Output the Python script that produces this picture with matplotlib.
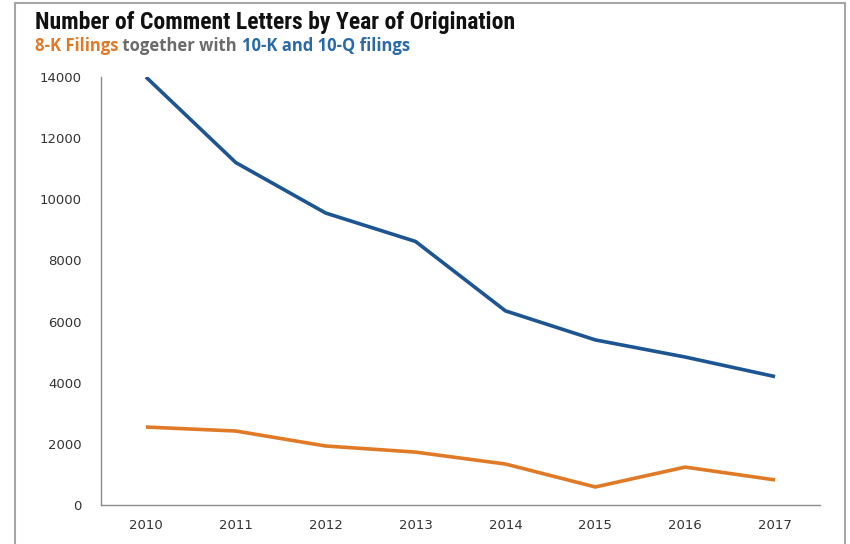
import matplotlib
matplotlib.use('Agg')
import matplotlib.pyplot as plt
from matplotlib.patches import Rectangle

years = [2010, 2011, 2012, 2013, 2014, 2015, 2016, 2017]
filings_10kq = [14000, 11200, 9550, 8620, 6350, 5400, 4840, 4200]
filings_8k = [2550, 2420, 1930, 1730, 1340, 590, 1240, 820]

blue = '#1c5592'
orange = '#e07a27'

fig = plt.figure(figsize=(8.5, 5.44), dpi=100)
ax = fig.add_axes([101/850, 39/544, 719/850, 428/544])

xs = range(len(years))
ax.plot(xs, filings_10kq, color=blue, lw=2.6, solid_capstyle='butt')
ax.plot(xs, filings_8k, color=orange, lw=2.6, solid_capstyle='butt')

ax.set_xlim(-0.5, len(years) - 0.5)
ax.set_ylim(0, 14000)
ax.set_yticks(range(0, 14001, 2000))
ax.set_xticks(list(xs))
ax.set_xticklabels([str(y) for y in years])
ax.tick_params(length=0, labelsize=9.5, colors='#333333', pad=10)
ax.tick_params(axis='y', pad=14)
for s in ['top', 'right']:
    ax.spines[s].set_visible(False)
for s in ['left', 'bottom']:
    ax.spines[s].set_color('#8c8c8c')
    ax.spines[s].set_linewidth(1)

# outer frame
fig.patches.append(Rectangle((15/850, -0.05), 830/850, 1.05 - 3/544, transform=fig.transFigure,
                             fill=False, edgecolor='#a6a6a6', lw=1.5, clip_on=False))

fig.text(35/850, 1 - 22/544, 'Number of Comment Letters by Year of Origination',
         fontsize=17, fontweight='bold',
         family=['Roboto Condensed', 'Liberation Sans Narrow', 'Liberation Sans', 'DejaVu Sans'],
         va='center', ha='left', color='#111111')

# multicolour subtitle
parts = [('8-K Filings', orange), (' together with ', '#6b6b6b'), ('10-K and 10-Q filings', '#2a6aa6')]
fig.canvas.draw()
r = fig.canvas.get_renderer()
x = 35
for txt, col in parts:
    t = fig.text(x/850, 1 - 46/544, txt, fontsize=12, fontweight='bold', family='Open Sans',
                 color=col, va='center', ha='left')
    bb = t.get_window_extent(renderer=r)
    x += bb.width

fig.savefig('out.png', dpi=100)
